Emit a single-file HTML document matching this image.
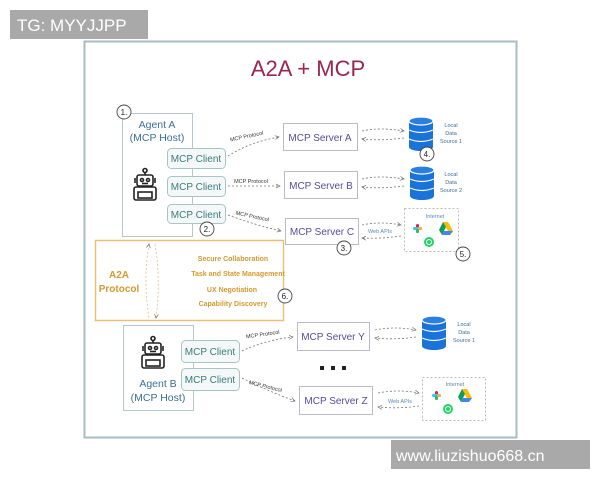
<!DOCTYPE html>
<html><head><meta charset="utf-8"><style>
html,body{margin:0;padding:0;background:#fff;width:600px;height:480px;overflow:hidden}
svg{display:block;font-family:"Liberation Sans",sans-serif}
</style></head><body>
<svg width="600" height="480" viewBox="0 0 600 480" xmlns="http://www.w3.org/2000/svg">
<defs>
<marker id="ah" markerWidth="6" markerHeight="6" refX="5" refY="3" orient="auto"><path d="M0,0.5 L5,3 L0,5.5" fill="none" stroke="#666" stroke-width="0.8"/></marker>
<marker id="ahs" markerWidth="6" markerHeight="6" refX="5" refY="3" orient="auto-start-reverse"><path d="M0,0.5 L5,3 L0,5.5" fill="none" stroke="#666" stroke-width="0.8"/></marker>
<g id="robot" fill="none" stroke="#222" stroke-width="1.6">
<circle cx="12" cy="2.5" r="2"/><line x1="12" y1="4.5" x2="12" y2="7"/>
<rect x="4" y="7" width="16" height="11" rx="2"/>
<circle cx="9" cy="12" r="1.5"/><circle cx="15" cy="12" r="1.5"/>
<line x1="9" y1="15.5" x2="15" y2="15.5"/>
<line x1="2" y1="10" x2="2" y2="15"/><line x1="22" y1="10" x2="22" y2="15"/>
<rect x="1" y="19" width="22" height="13" rx="2"/>
<rect x="5" y="24" width="14" height="6"/>
</g>
<g id="db">
<rect x="0" y="4" width="24" height="26" fill="#1a73d9"/>
<ellipse cx="12" cy="30" rx="12" ry="4" fill="#1a73d9"/>
<ellipse cx="12" cy="4" rx="12" ry="4" fill="#2a80e0" stroke="#fff" stroke-width="1.2"/>
<path d="M0,13 Q12,18 24,13 M0,22 Q12,27 24,22" fill="none" stroke="#fff" stroke-width="1.2"/>
</g>
<g id="apps">
<g transform="translate(0,0)"><rect x="3" y="0" width="3" height="9" rx="1.5" fill="#e01e5a"/><rect x="0" y="3" width="9" height="3" rx="1.5" fill="#36c5f0"/><rect x="3" y="5" width="3" height="4" rx="1.5" fill="#2eb67d"/><rect x="5" y="3" width="4" height="3" rx="1.5" fill="#ecb22e"/></g>
<g transform="translate(26,-2)"><path d="M4,0 L9,0 L14,9 L11,13 Z" fill="#fbbc04"/><path d="M4,0 L0,8 L3,13 L7,5 Z" fill="#0f9d58"/><path d="M3,13 L11,13 L14,9 L5,9 Z" fill="#4285f4"/></g>
<circle cx="16" cy="18" r="5" fill="#25d366"/><circle cx="16" cy="18" r="2.5" fill="none" stroke="#fff" stroke-width="1"/>
</g>
</defs>

<rect x="10" y="10" width="138" height="29" fill="#a9a9a9"/>
<text x="17" y="31" font-size="17" fill="#fff">TG: MYYJJPP</text>

<rect x="84.5" y="41.5" width="432" height="396" fill="#fff" stroke="#a9bcc4" stroke-width="2"/>
<text x="308" y="76" font-size="22" fill="#9b2552" text-anchor="middle">A2A + MCP</text>

<g font-size="10" fill="#333" text-anchor="middle">
<rect x="122.5" y="113.5" width="70" height="123" fill="#fff" stroke="#b8c6d0"/>
<text x="157" y="128" font-size="10.5" fill="#3d6e96">Agent A</text>
<text x="157" y="141" font-size="10.5" fill="#3d6e96">(MCP Host)</text>
<use href="#robot" transform="translate(133,168)"/>
<g fill="#f4f8f9" stroke="#a9c4c4"><rect x="167.5" y="148.5" width="58" height="20" rx="4"/><rect x="167.5" y="176.5" width="58" height="20" rx="4"/><rect x="167.5" y="204.5" width="58" height="19" rx="4"/></g>
<g fill="#3a7a7a" font-size="10"><text x="196" y="162">MCP Client</text><text x="196" y="190">MCP Client</text><text x="196" y="218">MCP Client</text></g>

<g fill="#fff" stroke="#b8bcc8"><rect x="283.5" y="123.5" width="74" height="27"/><rect x="284.5" y="171.5" width="73" height="27"/><rect x="285.5" y="218.5" width="73" height="26"/><rect x="297.5" y="322.5" width="72" height="28"/><rect x="299.5" y="386.5" width="73" height="28"/></g>
<g fill="#5a4a9a" font-size="10"><text x="320" y="141">MCP Server A</text><text x="321" y="189">MCP Server B</text><text x="322" y="235">MCP Server C</text><text x="333" y="340">MCP Server Y</text><text x="336" y="404">MCP Server Z</text></g>

<g fill="none" stroke="#777" stroke-width="0.8" stroke-dasharray="2,2" marker-end="url(#ah)">
<path d="M228,156 Q250,142 279,137"/>
<path d="M228,186 L280,186"/>
<path d="M228,215 Q255,225 281,231"/>
<path d="M242,351 Q265,340 293,337"/>
<path d="M242,378 Q270,392 295,401"/>
</g>
<g font-size="5.5" fill="#333">
<text x="247" y="138" transform="rotate(-12 247 138)">MCP Protocol</text>
<text x="251" y="183">MCP Protocol</text>
<text x="252" y="218" transform="rotate(12 252 218)">MCP Protocol</text>
<text x="263" y="336" transform="rotate(-8 263 336)">MCP Protocol</text>
<text x="265" y="388" transform="rotate(14 265 388)">MCP Protocol</text>
</g>
<g fill="none" stroke="#777" stroke-width="0.8" stroke-dasharray="2,2" marker-end="url(#ah)">
<path d="M362,131 Q380,127 404,131"/><path d="M404,138 Q380,141 362,139"/>
<path d="M362,179 Q380,175 404,179"/><path d="M404,186 Q380,189 362,187"/>
<path d="M362,225 Q380,221 401,225"/><path d="M401,236 Q380,239 362,238"/>
<path d="M375,330 Q395,326 416,330"/><path d="M416,337 Q395,340 375,338"/>
<path d="M378,393 Q398,389 419,393"/><path d="M419,406 Q398,409 378,407"/>
</g>
<g font-size="5.5" fill="#5a8ab0"><text x="380" y="233">Web APIs</text><text x="400" y="403">Web APIs</text></g>

<use href="#db" transform="translate(409,117)"/>
<use href="#db" transform="translate(410,166)"/>
<use href="#db" transform="translate(422,316)"/>
<g font-size="5.5" fill="#3d6e96">
<text x="451" y="127">Local</text><text x="451" y="135">Data</text><text x="451" y="143">Source 1</text>
<text x="451" y="176">Local</text><text x="451" y="184">Data</text><text x="451" y="192">Source 2</text>
<text x="464" y="326">Local</text><text x="464" y="334">Data</text><text x="464" y="342">Source 1</text>
</g>
<rect x="404.5" y="208.5" width="54" height="43" fill="none" stroke="#bbb" stroke-dasharray="2,2"/>
<text x="435" y="218" font-size="5.5" fill="#5a8ab0">Internet</text>
<use href="#apps" transform="translate(413,224)"/>
<rect x="422.5" y="377.5" width="63" height="43" fill="none" stroke="#bbb" stroke-dasharray="2,2"/>
<text x="455" y="386" font-size="5.5" fill="#5a8ab0">Internet</text>
<use href="#apps" transform="translate(432,391)"/>

<rect x="95.5" y="240.5" width="188" height="80" fill="#fff" stroke="#e8c078" stroke-width="1.5"/>
<g fill="#d49a30" font-size="10" font-weight="bold"><text x="119" y="278">A2A</text><text x="119" y="292">Protocol</text></g>
<g fill="#d49a30" font-size="7" font-weight="bold"><text x="233" y="261">Secure Collaboration</text><text x="238" y="276">Task and State Management</text><text x="232" y="292">UX Negotiation</text><text x="233" y="306">Capability Discovery</text></g>
<g fill="none" stroke="#d9bf90" stroke-width="0.8" stroke-dasharray="2,2"><path d="M149,244 Q143,280 149,318" marker-start="url(#ahs)"/><path d="M155,244 Q161,280 156,318" marker-end="url(#ah)"/></g>

<rect x="123.5" y="325.5" width="70" height="85" fill="#fff" stroke="#b8c6d0"/>
<use href="#robot" transform="translate(141,336)"/>
<text x="158" y="387" font-size="10.5" fill="#3d6e96">Agent B</text>
<text x="158" y="401" font-size="10.5" fill="#3d6e96">(MCP Host)</text>
<g fill="#f4f8f9" stroke="#a9c4c4"><rect x="181.5" y="340.5" width="58" height="22" rx="4"/><rect x="181.5" y="368.5" width="58" height="22" rx="4"/></g>
<g fill="#3a7a7a" font-size="10"><text x="210" y="355">MCP Client</text><text x="210" y="383">MCP Client</text></g>

<g fill="#222"><rect x="320" y="366" width="4" height="4"/><rect x="331" y="366" width="4" height="4"/><rect x="342" y="366" width="4" height="4"/></g>

<g fill="#fff" stroke="#444" stroke-width="0.9"><circle cx="124" cy="112" r="7"/><circle cx="207" cy="229" r="7"/><circle cx="344" cy="248" r="7"/><circle cx="427" cy="154" r="7"/><circle cx="463" cy="254" r="7"/><circle cx="285" cy="296" r="7"/></g>
<g font-size="8" fill="#222"><text x="124" y="115">1.</text><text x="207" y="232">2.</text><text x="344" y="251">3.</text><text x="427" y="157">4.</text><text x="463" y="257">5.</text><text x="285" y="299">6.</text></g>
</g>

<rect x="391" y="440" width="199" height="29" fill="#a9a9a9"/>
<text x="396" y="461" font-size="16" fill="#fff">www.liuzishuo668.cn</text>
</svg>
</body></html>
